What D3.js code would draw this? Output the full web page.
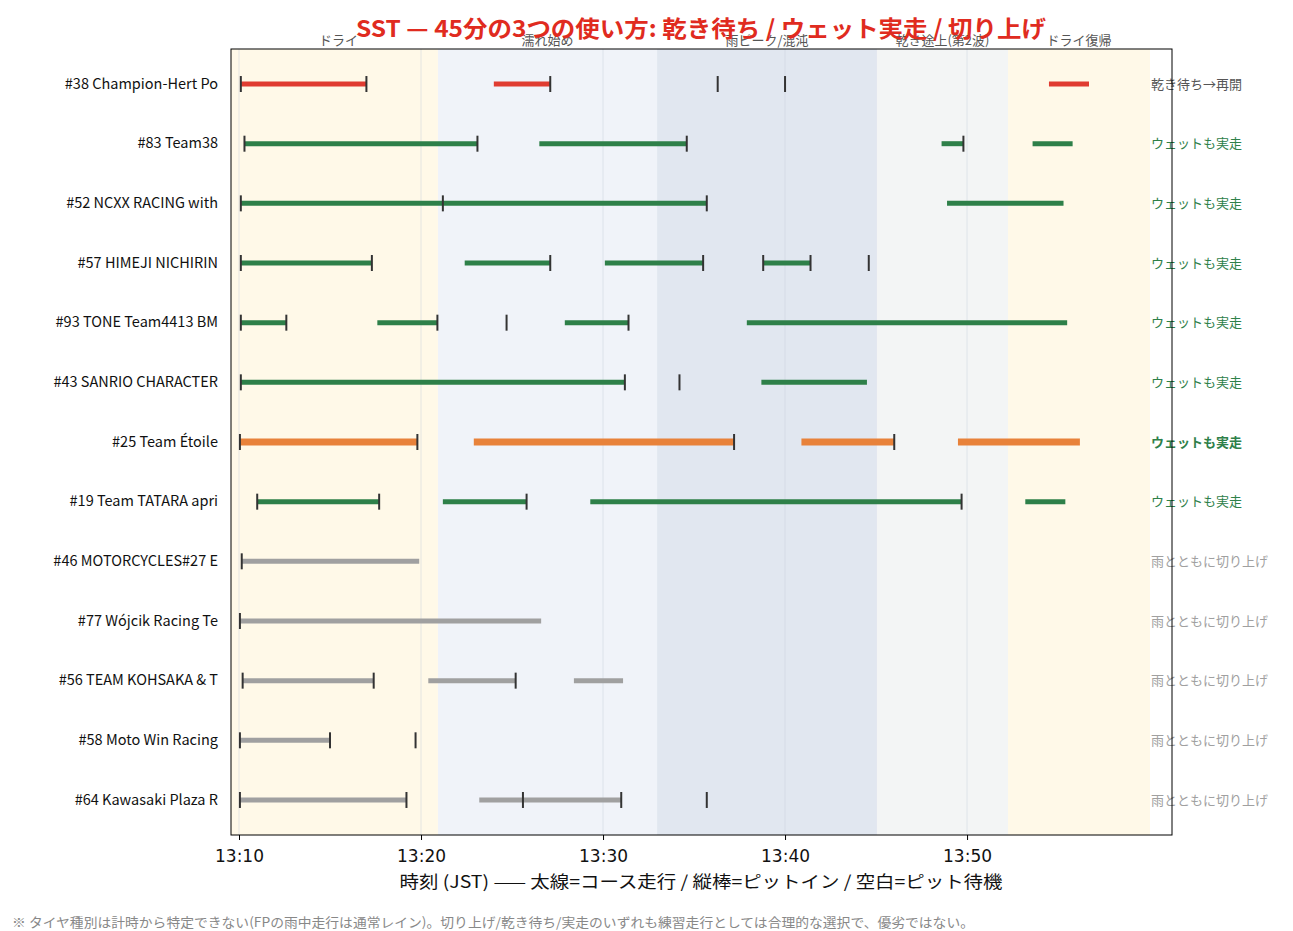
<!DOCTYPE html>
<html><head><meta charset="utf-8">
<script src="https://cdn.jsdelivr.net/npm/d3@7"></script>
<style>body{margin:0;background:#fff;font-family:"Noto Sans CJK JP","DejaVu Sans",sans-serif;}</style>
</head><body><div id="chart"></div>
<script>
"use strict";

// == DATA == minutes after 13:10
var teams = ["#38 Champion-Hert Po", "#83 Team38", "#52 NCXX RACING with", "#57 HIMEJI NICHIRIN ",
  "#93 TONE Team4413 BM", "#43 SANRIO CHARACTER", "#25 Team Étoile", "#19 Team TATARA apri",
  "#46 MOTORCYCLES#27 E", "#77 Wójcik Racing Te", "#56 TEAM KOHSAKA & T", "#58 Moto Win Racing", "#64 Kawasaki Plaza R"];
var groups = ["wait", "wet", "wet", "wet", "wet", "wet", "focus", "wet", "stop", "stop", "stop", "stop", "stop"];
var stints = [
  [[0.1, 7.0], [14.0, 17.1], [44.5, 46.7]],
  [[0.3, 13.1], [16.5, 24.6], [38.6, 39.8], [43.6, 45.8]],
  [[0.1, 25.7], [38.9, 45.3]],
  [[0.1, 7.3], [12.4, 17.1], [20.1, 25.5], [28.8, 31.4]],
  [[0.1, 2.6], [7.6, 10.9], [17.9, 21.4], [27.9, 45.5]],
  [[0.1, 21.2], [28.7, 34.5]],
  [[0.05, 9.8], [12.9, 27.2], [30.9, 36.0], [39.5, 46.2]],
  [[1.0, 7.7], [11.2, 15.8], [19.3, 39.7], [43.2, 45.4]],
  [[0.15, 9.9]],
  [[0.05, 16.6]],
  [[0.2, 7.4], [10.4, 15.2], [18.4, 21.1]],
  [[0.05, 5.0]],
  [[0.05, 9.2], [13.2, 21.0]]
];
var pits = [
  [0.1, 7.0, 17.1, 26.3, 30.0],
  [0.3, 13.1, 24.6, 39.8],
  [0.1, 11.2, 25.7],
  [0.1, 7.3, 17.1, 25.5, 28.8, 31.4, 34.6],
  [0.1, 2.6, 10.9, 14.7, 21.4],
  [0.1, 21.2, 24.2],
  [0.05, 9.8, 27.2, 36.0],
  [1.0, 7.7, 15.8, 39.7],
  [0.15],
  [0.05],
  [0.2, 7.4, 15.2],
  [0.05, 5.0, 9.7],
  [0.05, 9.2, 15.6, 21.0, 25.7]
];
var phases = [
  {name: "ドライ", from: -0.45, to: 10.93, fill: "#fff9e8"},
  {name: "濡れ始め", from: 10.93, to: 22.97, fill: "#f0f3f9"},
  {name: "雨ピーク/混沌", from: 22.97, to: 35.05, fill: "#e1e7f0"},
  {name: "乾き途上(第2波)", from: 35.05, to: 42.25, fill: "#f3f5f5"},
  {name: "ドライ復帰", from: 42.25, to: 50.05, fill: "#fff9e8"}
];
var tickMinutes = [0, 10, 20, 30, 40];
var groupLabel = {wait: "乾き待ち→再開", wet: "ウェットも実走", focus: "ウェットも実走", stop: "雨とともに切り上げ"};
var groupColor = {wait: "#e03c31", wet: "#2e8049", focus: "#e8823a", stop: "#a0a0a0"};
var labelColor = {wait: "#555", wet: "#2e8049", focus: "#2e8049", stop: "#a0a0a0"};

// == SETUP ==
var W = 1293, H = 931;
var margin = {top: 49, right: 121, bottom: 96, left: 231};
var width = W - margin.left - margin.right, height = H - margin.top - margin.bottom;

var svg = d3.select("#chart").append("svg").attr("width", W).attr("height", H);
var g = svg.append("g").attr("transform", "translate(" + margin.left + "," + margin.top + ")");

var x = d3.scaleLinear().domain([-0.44, 51.26]).range([0, width]);
var y = d3.scaleBand().domain(teams).range([5.2, 780.8]).padding(0);

// phases
g.selectAll(".phase").data(phases).enter().append("rect")
  .attr("x", function (d) { return x(d.from); })
  .attr("width", function (d) { return x(d.to) - x(d.from); })
  .attr("y", 0).attr("height", height)
  .attr("fill", function (d) { return d.fill; });
g.selectAll(".phaseLabel").data(phases).enter().append("text")
  .attr("x", function (d) { return x((Math.max(d.from, 0) + d.to) / 2); })
  .attr("y", -4).attr("text-anchor", "middle")
  .attr("font-size", 13).attr("fill", "#555")
  .text(function (d) { return d.name; });

// grid
g.selectAll(".grid").data(tickMinutes).enter().append("line")
  .attr("x1", function (d) { return x(d); }).attr("x2", function (d) { return x(d); })
  .attr("y1", 0).attr("y2", height)
  .attr("stroke", "#ccd3dd").attr("stroke-opacity", 0.5);

// stints
teams.forEach(function (t, i) {
  var cy = y(t) + y.bandwidth() / 2;
  var col = groupColor[groups[i]];
  g.selectAll(".s" + i).data(stints[i]).enter().append("line")
    .attr("x1", function (d) { return x(d[0]); }).attr("x2", function (d) { return x(d[1]); })
    .attr("y1", cy).attr("y2", cy)
    .attr("stroke", col).attr("stroke-width", groups[i] === "focus" ? 7 : 5);
  g.selectAll(".p" + i).data(pits[i]).enter().append("line")
    .attr("x1", function (d) { return x(d); }).attr("x2", function (d) { return x(d); })
    .attr("y1", cy - 8).attr("y2", cy + 8)
    .attr("stroke", "#333").attr("stroke-width", 2);
  g.append("text").attr("x", width - 21).attr("y", cy).attr("dy", "0.35em")
    .attr("font-size", 13).attr("fill", labelColor[groups[i]])
    .attr("font-weight", groups[i] === "focus" ? "bold" : "normal")
    .text(groupLabel[groups[i]]);
});

// frame
g.append("rect").attr("width", width).attr("height", height)
  .attr("fill", "none").attr("stroke", "#000").attr("stroke-width", 1);

// axes
var xAxis = g.append("g").attr("transform", "translate(0," + height + ")")
  .call(d3.axisBottom(x).tickValues(tickMinutes).tickSize(5)
    .tickFormat(function (d) { var m = 10 + d; return (13 + Math.floor(m / 60)) + ":" + d3.format("02d")(m % 60); }));
xAxis.select(".domain").remove();
xAxis.selectAll("text").attr("font-size", 17).attr("fill", "#111").attr("dy", "1.1em")
  .attr("font-family", "DejaVu Sans, sans-serif");

var yAxis = g.append("g").call(d3.axisLeft(y).tickSize(0).tickPadding(13));
yAxis.select(".domain").remove();
yAxis.selectAll("text").attr("font-size", 14.5).attr("fill", "#111")
  .attr("font-family", "Noto Sans CJK JP, sans-serif");

// titles
svg.append("text").attr("x", 701).attr("y", 37).attr("text-anchor", "middle")
  .attr("font-size", 23).attr("font-weight", "bold").attr("fill", "#e02b20")
  .attr("textLength", 690).attr("lengthAdjust", "spacingAndGlyphs")
  .text("SST — 45分の3つの使い方: 乾き待ち / ウェット実走 / 切り上げ");
svg.append("text").attr("x", 701).attr("y", 888).attr("text-anchor", "middle")
  .attr("font-size", 17).attr("fill", "#111")
  .attr("textLength", 603).attr("lengthAdjust", "spacingAndGlyphs")
  .text("時刻 (JST) —— 太線=コース走行 / 縦棒=ピットイン / 空白=ピット待機");
svg.append("text").attr("x", 12).attr("y", 927)
  .attr("font-size", 13).attr("fill", "#888")
  .attr("textLength", 962).attr("lengthAdjust", "spacingAndGlyphs")
  .text("※ タイヤ種別は計時から特定できない(FPの雨中走行は通常レイン)。切り上げ/乾き待ち/実走のいずれも練習走行としては合理的な選択で、優劣ではない。");
</script>
</body></html>
